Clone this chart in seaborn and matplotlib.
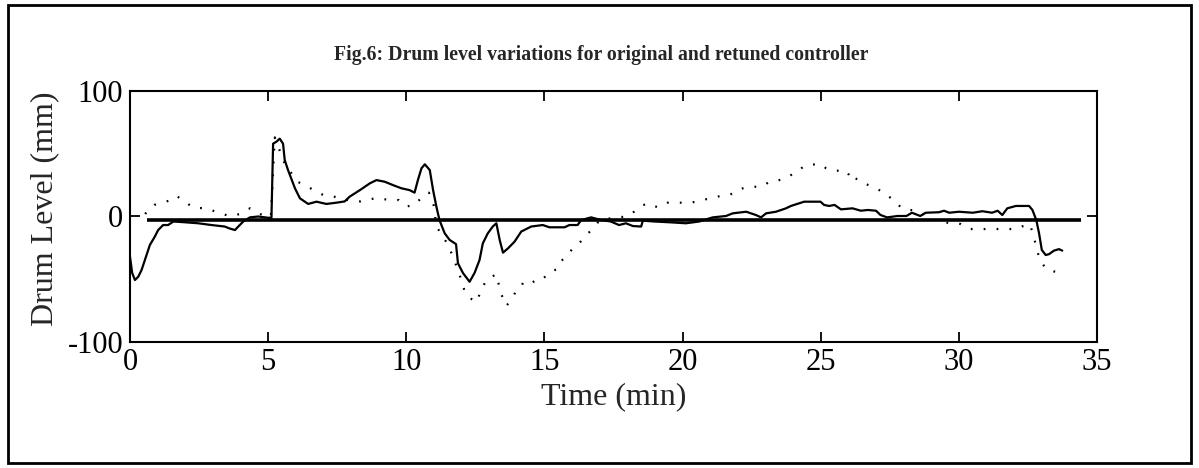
import matplotlib
matplotlib.use("Agg")
import matplotlib.pyplot as plt
import seaborn as sns
import pandas as pd
from matplotlib.patches import Rectangle

# ---- data ----
solid_t = [0.0, 0.08, 0.18, 0.3, 0.42, 0.54, 0.72, 0.9, 1.02, 1.2, 1.38, 1.57, 1.99, 2.47,
           2.95, 3.43, 3.6, 3.8, 3.92, 4.1, 4.34, 4.64, 5.0, 5.12, 5.18, 5.3, 5.42, 5.54,
           5.6, 5.72, 5.97, 6.15, 6.45, 6.75, 7.11, 7.47, 7.77, 7.95, 8.32, 8.68, 8.92,
           9.22, 9.52, 9.82, 10.12, 10.3, 10.42, 10.55, 10.67, 10.85, 10.97, 11.09, 11.2,
           11.39, 11.57, 11.8, 11.87, 12.05, 12.29, 12.47, 12.65, 12.77, 12.95, 13.13,
           13.26, 13.38, 13.5, 13.68, 13.92, 14.16, 14.52, 14.94, 15.18, 15.73, 15.9, 16.2,
           16.33, 16.69, 17.05, 17.4, 17.7, 17.95, 18.2, 18.5, 18.56, 18.98, 19.52, 20.12,
           20.6, 21.09, 21.57, 21.81, 22.3, 22.65, 22.84, 23.02, 23.38, 23.74, 23.92, 24.28,
           24.4, 24.99, 25.12, 25.3, 25.5, 25.73, 26.15, 26.45, 26.7, 27.0, 27.16, 27.4,
           27.78, 28.1, 28.3, 28.6, 28.8, 29.28, 29.46, 29.65, 30.0, 30.5, 30.85, 31.2,
           31.4, 31.57, 31.75, 32.06, 32.54, 32.66, 32.8, 32.9, 33.0, 33.14, 33.26, 33.44,
           33.62, 33.74]
solid_level = [-32, -45, -50.6, -48, -42.6, -34.7, -22.7, -16, -10.8, -6.8, -6.8, -4, -4.6,
               -5.4, -6.8, -8, -9.5, -10.8, -8, -4, -0.7, 0, -1, -1, 58, 59.6, 62, 58,
               45, 37, 22.5, 14.5, 10, 11.8, 10, 11, 12, 15.8, 21, 26.4, 29,
               27.7, 25, 22.5, 21, 19, 29, 38.4, 41.6, 37, 21, 7.8, -2.8,
               -13.4, -18.7, -22, -37.3, -45, -52, -45, -34.7, -21.4, -13.4, -8,
               -5.4, -18.7, -28.8, -25.4, -20, -12, -8, -6.8, -8.6, -8.6, -6.8, -6.8,
               -2.8, -0.7, -2.8, -4, -6.8, -5.4, -7.6, -8, -3.3, -4, -4.6, -5.4,
               -4, -0.7, 0.4, 2.5, 3.8, 1.2, -0.7, 2.5, 3.8, 6.5, 8.4, 11,
               11.8, 11.8, 9.2, 8.4, 9.2, 5.7, 6.5, 4.6, 5.2, 4.6, 1.2, -0.7,
               0.4, 0.4, 3, 0.4, 3, 3.4, 4.6, 3, 3.8, 3, 4.2, 3,
               4.6, 1.2, 6.5, 8.4, 8.4, 5.2, -2.8, -13.4, -26.7, -30.7, -30, -27.2,
               -26, -27.2]

dotted_t = [0.55, 0.66, 0.88, 1.2, 1.5, 1.69, 2.02, 2.29, 2.77, 3.17, 3.59, 4.0, 4.34, 4.8,
            5.1, 5.24, 5.6, 6.06, 6.39, 6.69, 7.05, 7.35, 7.9, 8.34, 8.68, 8.94, 9.4, 9.73,
            10.0, 10.3, 10.6, 10.82, 10.99, 11.09, 11.27, 11.55, 11.67, 11.9, 11.99, 12.1,
            12.29, 12.57, 12.69, 12.93, 13.26, 13.35, 13.44, 13.62, 13.84, 13.94, 14.11,
            14.22, 14.42, 14.7, 14.9, 15.21, 15.46, 15.61, 15.79, 16.03, 16.27, 16.47,
            16.73, 17.0, 17.5, 18.0, 18.2, 18.44, 18.74, 19.1, 19.46, 19.82, 20.3, 20.73,
            21.23, 21.7, 22.05, 22.39, 22.87, 23.14, 23.44, 23.86, 24.2, 24.52, 25.03,
            25.19, 25.43, 25.75, 25.93, 26.15, 26.24, 26.51, 26.63, 26.87, 27.23, 27.63,
            27.94, 28.24, 28.48, 28.8, 29.16, 29.6, 30.07, 30.39, 30.73, 31.15, 31.63,
            32.09, 32.27, 32.56, 32.68, 32.84, 32.96, 33.2, 33.65]
dotted_level = [2, 5.2, 9.2, 11.3, 13.1, 16.3, 11.3, 7, 6.5, 3.3, 0.4, 2, 6.5, 1,
                0, 63, 42, 27.7, 24.3, 20.5, 16.5, 16, 13, 12, 13.7, 14.7, 13.1, 13.1,
                8, 9, 16.3, 19, 9, -8, -14, -24, -31.5, -44, -51, -58.6,
                -65, -68, -58.6, -50, -46, -54.6, -62, -71.3, -65, -60.7, -58,
                -53, -54.6, -50.6, -50.6, -44, -42, -35.5, -31.5, -25.4, -21, -16,
                -10, -3, -1, 0, 3, 7.8, 10.5, 7.3, 11, 11, 11, 13.1,
                15.8, 17.1, 21.7, 23.7, 23.7, 27.7, 28.5, 32, 37.3, 41.3, 41.6,
                38.4, 36.5, 36.5, 36.5, 28.3, 30.4, 28.3, 25.9, 23.7, 19.8, 13.1,
                6.5, 5.2, 4.6, 1, -3.3, -5, -6, -10, -10, -10, -10,
                -10, -8, -6, -13.4, -28, -36, -42.6, -44.8]

setpoint_t = [0.6, 34.4]
setpoint_level = [-2.5, -2.5]

x_ticks = [0, 5, 10, 15, 20, 25, 30, 35]
y_ticks = [-100, 0, 100]

title = "Fig.6: Drum level variations for original and retuned controller"
x_label = "Time (min)"
y_label = "Drum Level (mm)"

# ---- styling ----
sns.set_style("ticks")
plt.rcParams['font.family'] = ['Liberation Serif', 'DejaVu Serif']
plt.rcParams['xtick.direction'] = 'in'
plt.rcParams['ytick.direction'] = 'in'

fig = plt.figure(figsize=(11.99, 4.68), dpi=100)
ax = fig.add_axes([0.1084, 0.2692, 0.8066, 0.5364])

df_solid = pd.DataFrame({"t": solid_t, "level": solid_level})
df_dot = pd.DataFrame({"t": dotted_t, "level": dotted_level})
df_sp = pd.DataFrame({"t": setpoint_t, "level": setpoint_level})

sns.lineplot(data=df_dot, x="t", y="level", ax=ax, color="black", linewidth=1.6,
             linestyle=(0, (0.8, 5.0)), estimator=None, sort=False)
sns.lineplot(data=df_sp, x="t", y="level", ax=ax, color="black", linewidth=2.6,
             estimator=None, sort=False, solid_capstyle="butt")
sns.lineplot(data=df_solid, x="t", y="level", ax=ax, color="black", linewidth=1.6,
             estimator=None, sort=False)

ax.set_xlim(0, 35)
ax.set_ylim(-100, 100)
ax.set_xticks(x_ticks)
ax.set_yticks(y_ticks)
ax.set_xticklabels([str(v) for v in x_ticks])
ax.set_yticklabels([str(v) for v in y_ticks])
ax.tick_params(axis="both", which="both", length=7, width=1.3, labelsize=22,
               top=True, right=True, pad=4, colors="black")
ax.tick_params(axis="y", pad=5)
for s in ax.spines.values():
    s.set_linewidth(1.5)
    s.set_color("black")
    s.set_visible(True)

ax.set_xlabel(x_label, fontsize=23, labelpad=4)
ax.set_ylabel(y_label, fontsize=23)
ax.yaxis.set_label_coords(-0.073, 0.53)

fig.text(0.501, 0.882, title, ha="center", va="center", fontsize=14.2,
         fontweight="bold", family=['Liberation Serif', 'DejaVu Serif'])

fig.patches.append(Rectangle((0.007, 0.01), 0.986, 0.98, transform=fig.transFigure,
                             fill=False, edgecolor="black", linewidth=2))

fig.savefig("out.png", dpi=100, facecolor="white")
